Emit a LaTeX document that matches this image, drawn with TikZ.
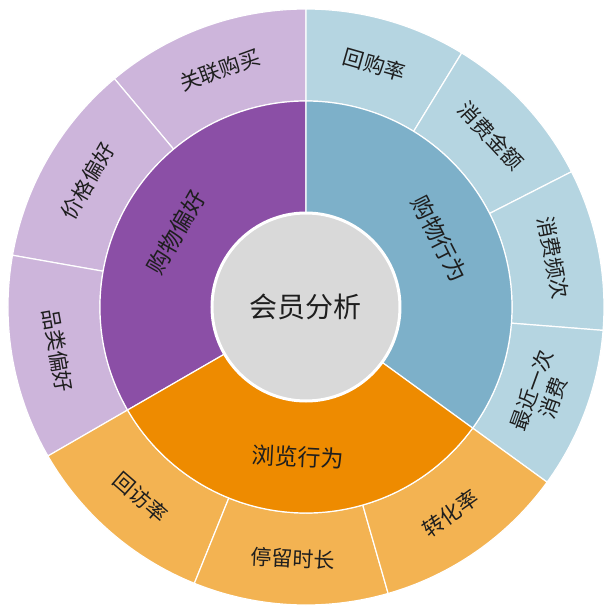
\documentclass[tikz,border=0pt]{standalone}
\usepackage{fontspec}
\newfontfamily\cjk{Noto Sans CJK SC}
\definecolor{pI}{HTML}{8B4FA6}\definecolor{pO}{HTML}{CDB5DB}
\definecolor{bI}{HTML}{7DB0C9}\definecolor{bO}{HTML}{B5D5E1}
\definecolor{oI}{HTML}{EE8B00}\definecolor{oO}{HTML}{F3B352}
\definecolor{cG}{HTML}{D9D9D9}\definecolor{tx}{HTML}{1E1E1E}
\newcommand{\sect}[5]{\draw[sep,fill=#5] (#1:#3pt) arc[start angle=#1,end angle=#2,radius=#3pt] -- (#2:#4pt) arc[start angle=#2,end angle=#1,radius=#4pt] -- cycle;}
\tikzset{sep/.style={draw=white,line width=1.2pt},
lab/.style={font=\cjk\fontsize{21}{23}\selectfont,text=tx,align=center,inner sep=0pt},
ilab/.style={font=\cjk\fontsize{23}{26}\selectfont,text=tx,inner sep=0pt}}
\begin{document}
\begin{tikzpicture}
\useasboundingbox[fill=white] (-306pt,-307pt) rectangle (306pt,307pt);
% outer ring
\sect{90}{130}{206}{298}{pO}\sect{130}{170}{206}{298}{pO}\sect{170}{210}{206}{298}{pO}
\sect{58.5}{90}{206}{298}{bO}\sect{27}{58.5}{206}{298}{bO}\sect{-4.5}{27}{206}{298}{bO}\sect{-36}{-4.5}{206}{298}{bO}
\sect{210}{248}{206}{298}{oO}\sect{248}{286}{206}{298}{oO}\sect{286}{324}{206}{298}{oO}
% inner ring
\sect{90}{210}{94}{206}{pI}\sect{-36}{90}{94}{206}{bI}\sect{210}{324}{94}{206}{oI}
\node[circle,fill=cG,draw=white,line width=3pt,minimum size=188pt,font=\cjk\fontsize{28}{30}\selectfont,text=tx] (c) at (0,0) {会员分析};
% inner labels
\node[ilab,rotate=60] (i1) at (150:150pt) {购物偏好};
\node[ilab,rotate=-63] (i2) at (27:150pt) {购物行为};
\node[ilab,rotate=-3] (i3) at (267:150pt) {浏览行为};
% outer labels
\node[lab,rotate=20] (o1) at (110:252pt) {关联购买};
\node[lab,rotate=60] (o2) at (150:252pt) {价格偏好};
\node[lab,rotate=-80] (o3) at (190:252pt) {品类偏好};
\node[lab,rotate=-16] (o4) at (74.25:252pt) {回购率};
\node[lab,rotate=-47] (o5) at (42.75:252pt) {消费金额};
\node[lab,rotate=-79] (o6) at (11.25:252pt) {消费频次};
\node[lab,rotate=70] (o7) at (-20.25:252pt) {最近一次\\消费};
\node[lab,rotate=-41] (o8) at (229:252pt) {回访率};
\node[lab,rotate=-3] (o9) at (267:252pt) {停留时长};
\node[lab,rotate=35] (o10) at (305:252pt) {转化率};
\end{tikzpicture}
\end{document}
